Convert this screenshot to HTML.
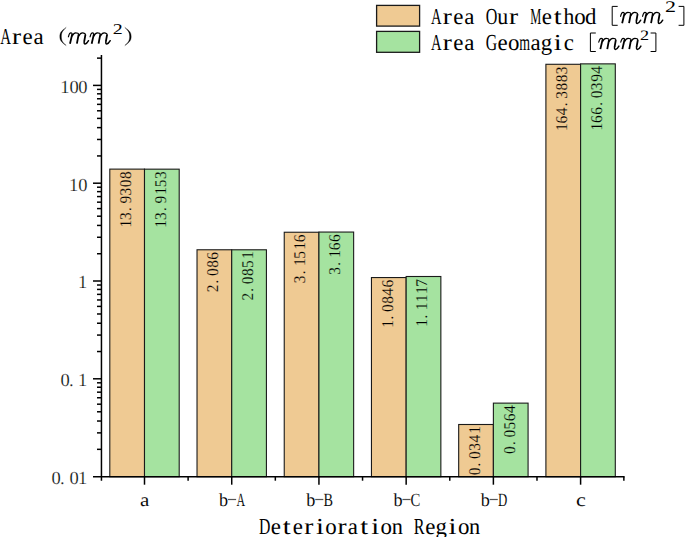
<!DOCTYPE html>
<html><head><meta charset="utf-8"><style>
html,body{margin:0;padding:0;background:#fff;}
body{width:685px;height:537px;overflow:hidden;font-family:"Liberation Serif",serif;}
svg{display:block;} text{text-rendering:geometricPrecision;}
</style></head><body>
<svg width="685" height="537" viewBox="0 0 685 537">
<rect x="109.800" y="169.119" width="34.700" height="307.581" fill="#EFCA93" stroke="#1a1a1a" stroke-width="1.1"/>
<rect x="144.500" y="169.166" width="34.700" height="307.534" fill="#A5E3A0" stroke="#1a1a1a" stroke-width="1.1"/>
<rect x="197.020" y="249.771" width="34.700" height="226.929" fill="#EFCA93" stroke="#1a1a1a" stroke-width="1.1"/>
<rect x="231.720" y="249.789" width="34.700" height="226.911" fill="#A5E3A0" stroke="#1a1a1a" stroke-width="1.1"/>
<rect x="284.240" y="232.244" width="34.700" height="244.456" fill="#EFCA93" stroke="#1a1a1a" stroke-width="1.1"/>
<rect x="318.940" y="232.050" width="34.700" height="244.650" fill="#A5E3A0" stroke="#1a1a1a" stroke-width="1.1"/>
<rect x="371.460" y="277.551" width="34.700" height="199.149" fill="#EFCA93" stroke="#1a1a1a" stroke-width="1.1"/>
<rect x="406.160" y="276.502" width="34.700" height="200.198" fill="#A5E3A0" stroke="#1a1a1a" stroke-width="1.1"/>
<rect x="458.680" y="424.497" width="34.700" height="52.203" fill="#EFCA93" stroke="#1a1a1a" stroke-width="1.1"/>
<rect x="493.380" y="403.125" width="34.700" height="73.575" fill="#A5E3A0" stroke="#1a1a1a" stroke-width="1.1"/>
<rect x="545.900" y="64.288" width="34.700" height="412.412" fill="#EFCA93" stroke="#1a1a1a" stroke-width="1.1"/>
<rect x="580.600" y="63.863" width="34.700" height="412.837" fill="#A5E3A0" stroke="#1a1a1a" stroke-width="1.1"/>
<g transform="translate(131.050,171.819) rotate(-90)"><text transform="translate(-55.769,0.000) scale(0.9400,1)" font-family="Liberation Serif" font-style="normal" font-size="16.400" fill="#000" stroke="#EFCA93" stroke-width="0.1596">1</text>
<text transform="translate(-48.222,0.000) scale(0.9400,1)" font-family="Liberation Serif" font-style="normal" font-size="16.400" fill="#000" stroke="#EFCA93" stroke-width="0.1596">3</text>
<text transform="translate(-39.227,0.000) scale(0.9400,1)" font-family="Liberation Serif" font-style="normal" font-size="16.400" fill="#000" stroke="#EFCA93" stroke-width="0.1596">.</text>
<text transform="translate(-31.686,0.000) scale(0.9400,1)" font-family="Liberation Serif" font-style="normal" font-size="16.400" fill="#000" stroke="#EFCA93" stroke-width="0.1596">9</text>
<text transform="translate(-23.622,0.000) scale(0.9400,1)" font-family="Liberation Serif" font-style="normal" font-size="16.400" fill="#000" stroke="#EFCA93" stroke-width="0.1596">3</text>
<text transform="translate(-15.354,0.000) scale(0.9400,1)" font-family="Liberation Serif" font-style="normal" font-size="16.400" fill="#000" stroke="#EFCA93" stroke-width="0.1596">0</text>
<text transform="translate(-7.154,0.000) scale(0.9400,1)" font-family="Liberation Serif" font-style="normal" font-size="16.400" fill="#000" stroke="#EFCA93" stroke-width="0.1596">8</text></g>
<g transform="translate(165.750,171.866) rotate(-90)"><text transform="translate(-55.769,0.000) scale(0.9400,1)" font-family="Liberation Serif" font-style="normal" font-size="16.400" fill="#000" stroke="#A5E3A0" stroke-width="0.1596">1</text>
<text transform="translate(-48.222,0.000) scale(0.9400,1)" font-family="Liberation Serif" font-style="normal" font-size="16.400" fill="#000" stroke="#A5E3A0" stroke-width="0.1596">3</text>
<text transform="translate(-39.227,0.000) scale(0.9400,1)" font-family="Liberation Serif" font-style="normal" font-size="16.400" fill="#000" stroke="#A5E3A0" stroke-width="0.1596">.</text>
<text transform="translate(-31.686,0.000) scale(0.9400,1)" font-family="Liberation Serif" font-style="normal" font-size="16.400" fill="#000" stroke="#A5E3A0" stroke-width="0.1596">9</text>
<text transform="translate(-22.969,0.000) scale(0.9400,1)" font-family="Liberation Serif" font-style="normal" font-size="16.400" fill="#000" stroke="#A5E3A0" stroke-width="0.1596">1</text>
<text transform="translate(-15.501,0.000) scale(0.9400,1)" font-family="Liberation Serif" font-style="normal" font-size="16.400" fill="#000" stroke="#A5E3A0" stroke-width="0.1596">5</text>
<text transform="translate(-7.222,0.000) scale(0.9400,1)" font-family="Liberation Serif" font-style="normal" font-size="16.400" fill="#000" stroke="#A5E3A0" stroke-width="0.1596">3</text></g>
<g transform="translate(218.270,252.471) rotate(-90)"><text transform="translate(-39.867,0.000) scale(0.9400,1)" font-family="Liberation Serif" font-style="normal" font-size="16.400" fill="#000" stroke="#EFCA93" stroke-width="0.1596">2</text>
<text transform="translate(-31.027,0.000) scale(0.9400,1)" font-family="Liberation Serif" font-style="normal" font-size="16.400" fill="#000" stroke="#EFCA93" stroke-width="0.1596">.</text>
<text transform="translate(-23.554,0.000) scale(0.9400,1)" font-family="Liberation Serif" font-style="normal" font-size="16.400" fill="#000" stroke="#EFCA93" stroke-width="0.1596">0</text>
<text transform="translate(-15.354,0.000) scale(0.9400,1)" font-family="Liberation Serif" font-style="normal" font-size="16.400" fill="#000" stroke="#EFCA93" stroke-width="0.1596">8</text>
<text transform="translate(-7.256,0.000) scale(0.9400,1)" font-family="Liberation Serif" font-style="normal" font-size="16.400" fill="#000" stroke="#EFCA93" stroke-width="0.1596">6</text></g>
<g transform="translate(252.970,252.489) rotate(-90)"><text transform="translate(-48.067,0.000) scale(0.9400,1)" font-family="Liberation Serif" font-style="normal" font-size="16.400" fill="#000" stroke="#A5E3A0" stroke-width="0.1596">2</text>
<text transform="translate(-39.227,0.000) scale(0.9400,1)" font-family="Liberation Serif" font-style="normal" font-size="16.400" fill="#000" stroke="#A5E3A0" stroke-width="0.1596">.</text>
<text transform="translate(-31.754,0.000) scale(0.9400,1)" font-family="Liberation Serif" font-style="normal" font-size="16.400" fill="#000" stroke="#A5E3A0" stroke-width="0.1596">0</text>
<text transform="translate(-23.554,0.000) scale(0.9400,1)" font-family="Liberation Serif" font-style="normal" font-size="16.400" fill="#000" stroke="#A5E3A0" stroke-width="0.1596">8</text>
<text transform="translate(-15.501,0.000) scale(0.9400,1)" font-family="Liberation Serif" font-style="normal" font-size="16.400" fill="#000" stroke="#A5E3A0" stroke-width="0.1596">5</text>
<text transform="translate(-6.569,0.000) scale(0.9400,1)" font-family="Liberation Serif" font-style="normal" font-size="16.400" fill="#000" stroke="#A5E3A0" stroke-width="0.1596">1</text></g>
<g transform="translate(305.490,234.944) rotate(-90)"><text transform="translate(-48.222,0.000) scale(0.9400,1)" font-family="Liberation Serif" font-style="normal" font-size="16.400" fill="#000" stroke="#EFCA93" stroke-width="0.1596">3</text>
<text transform="translate(-39.227,0.000) scale(0.9400,1)" font-family="Liberation Serif" font-style="normal" font-size="16.400" fill="#000" stroke="#EFCA93" stroke-width="0.1596">.</text>
<text transform="translate(-31.169,0.000) scale(0.9400,1)" font-family="Liberation Serif" font-style="normal" font-size="16.400" fill="#000" stroke="#EFCA93" stroke-width="0.1596">1</text>
<text transform="translate(-23.701,0.000) scale(0.9400,1)" font-family="Liberation Serif" font-style="normal" font-size="16.400" fill="#000" stroke="#EFCA93" stroke-width="0.1596">5</text>
<text transform="translate(-14.769,0.000) scale(0.9400,1)" font-family="Liberation Serif" font-style="normal" font-size="16.400" fill="#000" stroke="#EFCA93" stroke-width="0.1596">1</text>
<text transform="translate(-7.256,0.000) scale(0.9400,1)" font-family="Liberation Serif" font-style="normal" font-size="16.400" fill="#000" stroke="#EFCA93" stroke-width="0.1596">6</text></g>
<g transform="translate(340.190,234.750) rotate(-90)"><text transform="translate(-40.022,0.000) scale(0.9400,1)" font-family="Liberation Serif" font-style="normal" font-size="16.400" fill="#000" stroke="#A5E3A0" stroke-width="0.1596">3</text>
<text transform="translate(-31.027,0.000) scale(0.9400,1)" font-family="Liberation Serif" font-style="normal" font-size="16.400" fill="#000" stroke="#A5E3A0" stroke-width="0.1596">.</text>
<text transform="translate(-22.969,0.000) scale(0.9400,1)" font-family="Liberation Serif" font-style="normal" font-size="16.400" fill="#000" stroke="#A5E3A0" stroke-width="0.1596">1</text>
<text transform="translate(-15.456,0.000) scale(0.9400,1)" font-family="Liberation Serif" font-style="normal" font-size="16.400" fill="#000" stroke="#A5E3A0" stroke-width="0.1596">6</text>
<text transform="translate(-7.256,0.000) scale(0.9400,1)" font-family="Liberation Serif" font-style="normal" font-size="16.400" fill="#000" stroke="#A5E3A0" stroke-width="0.1596">6</text></g>
<g transform="translate(392.710,280.251) rotate(-90)"><text transform="translate(-47.569,0.000) scale(0.9400,1)" font-family="Liberation Serif" font-style="normal" font-size="16.400" fill="#000" stroke="#EFCA93" stroke-width="0.1596">1</text>
<text transform="translate(-39.227,0.000) scale(0.9400,1)" font-family="Liberation Serif" font-style="normal" font-size="16.400" fill="#000" stroke="#EFCA93" stroke-width="0.1596">.</text>
<text transform="translate(-31.754,0.000) scale(0.9400,1)" font-family="Liberation Serif" font-style="normal" font-size="16.400" fill="#000" stroke="#EFCA93" stroke-width="0.1596">0</text>
<text transform="translate(-23.554,0.000) scale(0.9400,1)" font-family="Liberation Serif" font-style="normal" font-size="16.400" fill="#000" stroke="#EFCA93" stroke-width="0.1596">8</text>
<text transform="translate(-15.384,0.000) scale(0.9400,1)" font-family="Liberation Serif" font-style="normal" font-size="16.400" fill="#000" stroke="#EFCA93" stroke-width="0.1596">4</text>
<text transform="translate(-7.256,0.000) scale(0.9400,1)" font-family="Liberation Serif" font-style="normal" font-size="16.400" fill="#000" stroke="#EFCA93" stroke-width="0.1596">6</text></g>
<g transform="translate(427.410,279.202) rotate(-90)"><text transform="translate(-47.569,0.000) scale(0.9400,1)" font-family="Liberation Serif" font-style="normal" font-size="16.400" fill="#000" stroke="#A5E3A0" stroke-width="0.1596">1</text>
<text transform="translate(-39.227,0.000) scale(0.9400,1)" font-family="Liberation Serif" font-style="normal" font-size="16.400" fill="#000" stroke="#A5E3A0" stroke-width="0.1596">.</text>
<text transform="translate(-31.169,0.000) scale(0.9400,1)" font-family="Liberation Serif" font-style="normal" font-size="16.400" fill="#000" stroke="#A5E3A0" stroke-width="0.1596">1</text>
<text transform="translate(-22.969,0.000) scale(0.9400,1)" font-family="Liberation Serif" font-style="normal" font-size="16.400" fill="#000" stroke="#A5E3A0" stroke-width="0.1596">1</text>
<text transform="translate(-14.769,0.000) scale(0.9400,1)" font-family="Liberation Serif" font-style="normal" font-size="16.400" fill="#000" stroke="#A5E3A0" stroke-width="0.1596">1</text>
<text transform="translate(-7.440,0.000) scale(0.9400,1)" font-family="Liberation Serif" font-style="normal" font-size="16.400" fill="#000" stroke="#A5E3A0" stroke-width="0.1596">7</text></g>
<g transform="translate(479.930,427.197) rotate(-90)"><text transform="translate(-48.154,0.000) scale(0.9400,1)" font-family="Liberation Serif" font-style="normal" font-size="16.400" fill="#000" stroke="#EFCA93" stroke-width="0.1596">0</text>
<text transform="translate(-39.227,0.000) scale(0.9400,1)" font-family="Liberation Serif" font-style="normal" font-size="16.400" fill="#000" stroke="#EFCA93" stroke-width="0.1596">.</text>
<text transform="translate(-31.754,0.000) scale(0.9400,1)" font-family="Liberation Serif" font-style="normal" font-size="16.400" fill="#000" stroke="#EFCA93" stroke-width="0.1596">0</text>
<text transform="translate(-23.622,0.000) scale(0.9400,1)" font-family="Liberation Serif" font-style="normal" font-size="16.400" fill="#000" stroke="#EFCA93" stroke-width="0.1596">3</text>
<text transform="translate(-15.384,0.000) scale(0.9400,1)" font-family="Liberation Serif" font-style="normal" font-size="16.400" fill="#000" stroke="#EFCA93" stroke-width="0.1596">4</text>
<text transform="translate(-6.569,0.000) scale(0.9400,1)" font-family="Liberation Serif" font-style="normal" font-size="16.400" fill="#000" stroke="#EFCA93" stroke-width="0.1596">1</text></g>
<g transform="translate(514.630,405.825) rotate(-90)"><text transform="translate(-48.154,0.000) scale(0.9400,1)" font-family="Liberation Serif" font-style="normal" font-size="16.400" fill="#000" stroke="#A5E3A0" stroke-width="0.1596">0</text>
<text transform="translate(-39.227,0.000) scale(0.9400,1)" font-family="Liberation Serif" font-style="normal" font-size="16.400" fill="#000" stroke="#A5E3A0" stroke-width="0.1596">.</text>
<text transform="translate(-31.754,0.000) scale(0.9400,1)" font-family="Liberation Serif" font-style="normal" font-size="16.400" fill="#000" stroke="#A5E3A0" stroke-width="0.1596">0</text>
<text transform="translate(-23.701,0.000) scale(0.9400,1)" font-family="Liberation Serif" font-style="normal" font-size="16.400" fill="#000" stroke="#A5E3A0" stroke-width="0.1596">5</text>
<text transform="translate(-15.456,0.000) scale(0.9400,1)" font-family="Liberation Serif" font-style="normal" font-size="16.400" fill="#000" stroke="#A5E3A0" stroke-width="0.1596">6</text>
<text transform="translate(-7.184,0.000) scale(0.9400,1)" font-family="Liberation Serif" font-style="normal" font-size="16.400" fill="#000" stroke="#A5E3A0" stroke-width="0.1596">4</text></g>
<g transform="translate(567.150,66.988) rotate(-90)"><text transform="translate(-63.969,0.000) scale(0.9400,1)" font-family="Liberation Serif" font-style="normal" font-size="16.400" fill="#000" stroke="#EFCA93" stroke-width="0.1596">1</text>
<text transform="translate(-56.456,0.000) scale(0.9400,1)" font-family="Liberation Serif" font-style="normal" font-size="16.400" fill="#000" stroke="#EFCA93" stroke-width="0.1596">6</text>
<text transform="translate(-48.184,0.000) scale(0.9400,1)" font-family="Liberation Serif" font-style="normal" font-size="16.400" fill="#000" stroke="#EFCA93" stroke-width="0.1596">4</text>
<text transform="translate(-39.227,0.000) scale(0.9400,1)" font-family="Liberation Serif" font-style="normal" font-size="16.400" fill="#000" stroke="#EFCA93" stroke-width="0.1596">.</text>
<text transform="translate(-31.822,0.000) scale(0.9400,1)" font-family="Liberation Serif" font-style="normal" font-size="16.400" fill="#000" stroke="#EFCA93" stroke-width="0.1596">3</text>
<text transform="translate(-23.554,0.000) scale(0.9400,1)" font-family="Liberation Serif" font-style="normal" font-size="16.400" fill="#000" stroke="#EFCA93" stroke-width="0.1596">8</text>
<text transform="translate(-15.354,0.000) scale(0.9400,1)" font-family="Liberation Serif" font-style="normal" font-size="16.400" fill="#000" stroke="#EFCA93" stroke-width="0.1596">8</text>
<text transform="translate(-7.222,0.000) scale(0.9400,1)" font-family="Liberation Serif" font-style="normal" font-size="16.400" fill="#000" stroke="#EFCA93" stroke-width="0.1596">3</text></g>
<g transform="translate(601.850,66.563) rotate(-90)"><text transform="translate(-63.969,0.000) scale(0.9400,1)" font-family="Liberation Serif" font-style="normal" font-size="16.400" fill="#000" stroke="#A5E3A0" stroke-width="0.1596">1</text>
<text transform="translate(-56.456,0.000) scale(0.9400,1)" font-family="Liberation Serif" font-style="normal" font-size="16.400" fill="#000" stroke="#A5E3A0" stroke-width="0.1596">6</text>
<text transform="translate(-48.256,0.000) scale(0.9400,1)" font-family="Liberation Serif" font-style="normal" font-size="16.400" fill="#000" stroke="#A5E3A0" stroke-width="0.1596">6</text>
<text transform="translate(-39.227,0.000) scale(0.9400,1)" font-family="Liberation Serif" font-style="normal" font-size="16.400" fill="#000" stroke="#A5E3A0" stroke-width="0.1596">.</text>
<text transform="translate(-31.754,0.000) scale(0.9400,1)" font-family="Liberation Serif" font-style="normal" font-size="16.400" fill="#000" stroke="#A5E3A0" stroke-width="0.1596">0</text>
<text transform="translate(-23.622,0.000) scale(0.9400,1)" font-family="Liberation Serif" font-style="normal" font-size="16.400" fill="#000" stroke="#A5E3A0" stroke-width="0.1596">3</text>
<text transform="translate(-15.286,0.000) scale(0.9400,1)" font-family="Liberation Serif" font-style="normal" font-size="16.400" fill="#000" stroke="#A5E3A0" stroke-width="0.1596">9</text>
<text transform="translate(-7.184,0.000) scale(0.9400,1)" font-family="Liberation Serif" font-style="normal" font-size="16.400" fill="#000" stroke="#A5E3A0" stroke-width="0.1596">4</text></g>
<line x1="101.45" y1="55.00" x2="101.45" y2="480.70" stroke="#000" stroke-width="1.50"/>
<line x1="93.00" y1="476.70" x2="624.61" y2="476.70" stroke="#000" stroke-width="1.50"/>
<line x1="97" y1="449.34" x2="101.45" y2="449.34" stroke="#000" stroke-width="1.50"/>
<line x1="97" y1="432.87" x2="101.45" y2="432.87" stroke="#000" stroke-width="1.50"/>
<line x1="97" y1="421.03" x2="101.45" y2="421.03" stroke="#000" stroke-width="1.50"/>
<line x1="97" y1="411.78" x2="101.45" y2="411.78" stroke="#000" stroke-width="1.50"/>
<line x1="97" y1="404.19" x2="101.45" y2="404.19" stroke="#000" stroke-width="1.50"/>
<line x1="97" y1="397.76" x2="101.45" y2="397.76" stroke="#000" stroke-width="1.50"/>
<line x1="97" y1="392.17" x2="101.45" y2="392.17" stroke="#000" stroke-width="1.50"/>
<line x1="97" y1="387.23" x2="101.45" y2="387.23" stroke="#000" stroke-width="1.50"/>
<line x1="97" y1="382.81" x2="101.45" y2="382.81" stroke="#000" stroke-width="1.50"/>
<line x1="93" y1="378.80" x2="101.45" y2="378.80" stroke="#000" stroke-width="1.50"/>
<line x1="97" y1="351.54" x2="101.45" y2="351.54" stroke="#000" stroke-width="1.50"/>
<line x1="97" y1="335.07" x2="101.45" y2="335.07" stroke="#000" stroke-width="1.50"/>
<line x1="97" y1="323.23" x2="101.45" y2="323.23" stroke="#000" stroke-width="1.50"/>
<line x1="97" y1="313.98" x2="101.45" y2="313.98" stroke="#000" stroke-width="1.50"/>
<line x1="97" y1="306.39" x2="101.45" y2="306.39" stroke="#000" stroke-width="1.50"/>
<line x1="97" y1="299.96" x2="101.45" y2="299.96" stroke="#000" stroke-width="1.50"/>
<line x1="97" y1="294.37" x2="101.45" y2="294.37" stroke="#000" stroke-width="1.50"/>
<line x1="97" y1="289.43" x2="101.45" y2="289.43" stroke="#000" stroke-width="1.50"/>
<line x1="97" y1="285.01" x2="101.45" y2="285.01" stroke="#000" stroke-width="1.50"/>
<line x1="93" y1="281.00" x2="101.45" y2="281.00" stroke="#000" stroke-width="1.50"/>
<line x1="97" y1="253.74" x2="101.45" y2="253.74" stroke="#000" stroke-width="1.50"/>
<line x1="97" y1="237.27" x2="101.45" y2="237.27" stroke="#000" stroke-width="1.50"/>
<line x1="97" y1="225.43" x2="101.45" y2="225.43" stroke="#000" stroke-width="1.50"/>
<line x1="97" y1="216.18" x2="101.45" y2="216.18" stroke="#000" stroke-width="1.50"/>
<line x1="97" y1="208.59" x2="101.45" y2="208.59" stroke="#000" stroke-width="1.50"/>
<line x1="97" y1="202.16" x2="101.45" y2="202.16" stroke="#000" stroke-width="1.50"/>
<line x1="97" y1="196.57" x2="101.45" y2="196.57" stroke="#000" stroke-width="1.50"/>
<line x1="97" y1="191.63" x2="101.45" y2="191.63" stroke="#000" stroke-width="1.50"/>
<line x1="97" y1="187.21" x2="101.45" y2="187.21" stroke="#000" stroke-width="1.50"/>
<line x1="93" y1="183.20" x2="101.45" y2="183.20" stroke="#000" stroke-width="1.50"/>
<line x1="97" y1="155.94" x2="101.45" y2="155.94" stroke="#000" stroke-width="1.50"/>
<line x1="97" y1="139.47" x2="101.45" y2="139.47" stroke="#000" stroke-width="1.50"/>
<line x1="97" y1="127.63" x2="101.45" y2="127.63" stroke="#000" stroke-width="1.50"/>
<line x1="97" y1="118.38" x2="101.45" y2="118.38" stroke="#000" stroke-width="1.50"/>
<line x1="97" y1="110.79" x2="101.45" y2="110.79" stroke="#000" stroke-width="1.50"/>
<line x1="97" y1="104.36" x2="101.45" y2="104.36" stroke="#000" stroke-width="1.50"/>
<line x1="97" y1="98.77" x2="101.45" y2="98.77" stroke="#000" stroke-width="1.50"/>
<line x1="97" y1="93.83" x2="101.45" y2="93.83" stroke="#000" stroke-width="1.50"/>
<line x1="97" y1="89.41" x2="101.45" y2="89.41" stroke="#000" stroke-width="1.50"/>
<line x1="93" y1="85.40" x2="101.45" y2="85.40" stroke="#000" stroke-width="1.50"/>
<line x1="97" y1="58.14" x2="101.45" y2="58.14" stroke="#000" stroke-width="1.50"/>
<line x1="144.50" y1="476.70" x2="144.50" y2="484.70" stroke="#000" stroke-width="1.50"/>
<line x1="188.11" y1="476.70" x2="188.11" y2="480.70" stroke="#000" stroke-width="1.50"/>
<line x1="231.72" y1="476.70" x2="231.72" y2="484.70" stroke="#000" stroke-width="1.50"/>
<line x1="275.33" y1="476.70" x2="275.33" y2="480.70" stroke="#000" stroke-width="1.50"/>
<line x1="318.94" y1="476.70" x2="318.94" y2="484.70" stroke="#000" stroke-width="1.50"/>
<line x1="362.55" y1="476.70" x2="362.55" y2="480.70" stroke="#000" stroke-width="1.50"/>
<line x1="406.16" y1="476.70" x2="406.16" y2="484.70" stroke="#000" stroke-width="1.50"/>
<line x1="449.77" y1="476.70" x2="449.77" y2="480.70" stroke="#000" stroke-width="1.50"/>
<line x1="493.38" y1="476.70" x2="493.38" y2="484.70" stroke="#000" stroke-width="1.50"/>
<line x1="536.99" y1="476.70" x2="536.99" y2="480.70" stroke="#000" stroke-width="1.50"/>
<line x1="580.60" y1="476.70" x2="580.60" y2="484.70" stroke="#000" stroke-width="1.50"/>
<line x1="623.86" y1="476.70" x2="623.86" y2="480.70" stroke="#000" stroke-width="1.50"/>
<text transform="translate(60.218,92.700) scale(1.0000,1)" font-family="Liberation Serif" font-style="normal" font-size="18.500" fill="#000" stroke="#fff" stroke-width="0.2500">1</text>
<text transform="translate(69.375,92.700) scale(1.0000,1)" font-family="Liberation Serif" font-style="normal" font-size="18.500" fill="#000" stroke="#fff" stroke-width="0.2500">0</text>
<text transform="translate(78.275,92.700) scale(1.0000,1)" font-family="Liberation Serif" font-style="normal" font-size="18.500" fill="#000" stroke="#fff" stroke-width="0.2500">0</text>
<text transform="translate(69.118,190.500) scale(1.0000,1)" font-family="Liberation Serif" font-style="normal" font-size="18.500" fill="#000" stroke="#fff" stroke-width="0.2500">1</text>
<text transform="translate(78.275,190.500) scale(1.0000,1)" font-family="Liberation Serif" font-style="normal" font-size="18.500" fill="#000" stroke="#fff" stroke-width="0.2500">0</text>
<text transform="translate(78.018,288.300) scale(1.0000,1)" font-family="Liberation Serif" font-style="normal" font-size="18.500" fill="#000" stroke="#fff" stroke-width="0.2500">1</text>
<text transform="translate(60.475,386.100) scale(1.0000,1)" font-family="Liberation Serif" font-style="normal" font-size="18.500" fill="#000" stroke="#fff" stroke-width="0.2500">0</text>
<text transform="translate(68.987,386.100) scale(1.0000,1)" font-family="Liberation Serif" font-style="normal" font-size="18.500" fill="#000" stroke="#fff" stroke-width="0.2500">.</text>
<text transform="translate(78.018,386.100) scale(1.0000,1)" font-family="Liberation Serif" font-style="normal" font-size="18.500" fill="#000" stroke="#fff" stroke-width="0.2500">1</text>
<text transform="translate(51.575,483.900) scale(1.0000,1)" font-family="Liberation Serif" font-style="normal" font-size="18.500" fill="#000" stroke="#fff" stroke-width="0.2500">0</text>
<text transform="translate(60.088,483.900) scale(1.0000,1)" font-family="Liberation Serif" font-style="normal" font-size="18.500" fill="#000" stroke="#fff" stroke-width="0.2500">.</text>
<text transform="translate(69.375,483.900) scale(1.0000,1)" font-family="Liberation Serif" font-style="normal" font-size="18.500" fill="#000" stroke="#fff" stroke-width="0.2500">0</text>
<text transform="translate(78.018,483.900) scale(1.0000,1)" font-family="Liberation Serif" font-style="normal" font-size="18.500" fill="#000" stroke="#fff" stroke-width="0.2500">1</text>
<text transform="translate(140.011,505.600) scale(1.1297,1)" font-family="Liberation Serif" font-style="normal" font-size="18.600" fill="#000" stroke="#fff" stroke-width="0.0708">a</text>
<text transform="translate(219.120,505.600) scale(0.9777,1)" font-family="Liberation Serif" font-style="normal" font-size="18.600" fill="#000" stroke="#fff" stroke-width="0.0818">b</text>
<text transform="translate(236.604,505.600) scale(0.6405,1)" font-family="Liberation Serif" font-style="normal" font-size="18.600" fill="#000" stroke="#fff" stroke-width="0.1249">A</text>
<rect x="228.01" y="498.9" width="8.1" height="1.2" fill="#555"/>
<text transform="translate(306.340,505.600) scale(0.9777,1)" font-family="Liberation Serif" font-style="normal" font-size="18.600" fill="#000" stroke="#fff" stroke-width="0.0818">b</text>
<text transform="translate(323.529,505.600) scale(0.7663,1)" font-family="Liberation Serif" font-style="normal" font-size="18.600" fill="#000" stroke="#fff" stroke-width="0.1044">B</text>
<rect x="315.23" y="498.9" width="8.1" height="1.2" fill="#555"/>
<text transform="translate(393.560,505.600) scale(0.9777,1)" font-family="Liberation Serif" font-style="normal" font-size="18.600" fill="#000" stroke="#fff" stroke-width="0.0818">b</text>
<text transform="translate(410.556,505.600) scale(0.7912,1)" font-family="Liberation Serif" font-style="normal" font-size="18.600" fill="#000" stroke="#fff" stroke-width="0.1011">C</text>
<rect x="402.45" y="498.9" width="8.1" height="1.2" fill="#555"/>
<text transform="translate(480.780,505.600) scale(0.9777,1)" font-family="Liberation Serif" font-style="normal" font-size="18.600" fill="#000" stroke="#fff" stroke-width="0.0818">b</text>
<text transform="translate(498.010,505.600) scale(0.6913,1)" font-family="Liberation Serif" font-style="normal" font-size="18.600" fill="#000" stroke="#fff" stroke-width="0.1157">D</text>
<rect x="489.67" y="498.9" width="8.1" height="1.2" fill="#555"/>
<text transform="translate(576.007,505.600) scale(1.1900,1)" font-family="Liberation Serif" font-style="normal" font-size="18.600" fill="#000" stroke="#fff" stroke-width="0.0672">c</text>
<text transform="translate(259.121,533.500) scale(0.6885,1)" font-family="Liberation Serif" font-style="normal" font-size="22.900" fill="#000">D</text>
<text transform="translate(270.643,533.500) scale(1.0000,1)" font-family="Liberation Serif" font-style="normal" font-size="22.900" fill="#000">e</text>
<text transform="translate(282.793,533.500) scale(1.2500,1)" font-family="Liberation Serif" font-style="normal" font-size="22.900" fill="#000">t</text>
<text transform="translate(292.743,533.500) scale(1.0000,1)" font-family="Liberation Serif" font-style="normal" font-size="22.900" fill="#000">e</text>
<text transform="translate(304.229,533.500) scale(1.1915,1)" font-family="Liberation Serif" font-style="normal" font-size="22.900" fill="#000">r</text>
<text transform="translate(315.971,533.500) scale(1.2500,1)" font-family="Liberation Serif" font-style="normal" font-size="22.900" fill="#000">i</text>
<text transform="translate(325.300,533.500) scale(1.0000,1)" font-family="Liberation Serif" font-style="normal" font-size="22.900" fill="#000">o</text>
<text transform="translate(337.379,533.500) scale(1.1915,1)" font-family="Liberation Serif" font-style="normal" font-size="22.900" fill="#000">r</text>
<text transform="translate(347.797,533.500) scale(1.0000,1)" font-family="Liberation Serif" font-style="normal" font-size="22.900" fill="#000">a</text>
<text transform="translate(360.143,533.500) scale(1.2500,1)" font-family="Liberation Serif" font-style="normal" font-size="22.900" fill="#000">t</text>
<text transform="translate(371.221,533.500) scale(1.2500,1)" font-family="Liberation Serif" font-style="normal" font-size="22.900" fill="#000">i</text>
<text transform="translate(380.550,533.500) scale(1.0000,1)" font-family="Liberation Serif" font-style="normal" font-size="22.900" fill="#000">o</text>
<text transform="translate(391.663,533.500) scale(0.9737,1)" font-family="Liberation Serif" font-style="normal" font-size="22.900" fill="#000">n</text>
<text transform="translate(413.809,533.500) scale(0.7064,1)" font-family="Liberation Serif" font-style="normal" font-size="22.900" fill="#000">R</text>
<text transform="translate(425.343,533.500) scale(1.0000,1)" font-family="Liberation Serif" font-style="normal" font-size="22.900" fill="#000">e</text>
<text transform="translate(435.526,533.500) scale(1.0000,1)" font-family="Liberation Serif" font-style="normal" font-size="22.900" fill="#000">g</text>
<text transform="translate(448.571,533.500) scale(1.2500,1)" font-family="Liberation Serif" font-style="normal" font-size="22.900" fill="#000">i</text>
<text transform="translate(457.900,533.500) scale(1.0000,1)" font-family="Liberation Serif" font-style="normal" font-size="22.900" fill="#000">o</text>
<text transform="translate(469.013,533.500) scale(0.9737,1)" font-family="Liberation Serif" font-style="normal" font-size="22.900" fill="#000">n</text>
<text transform="translate(0.230,43.900) scale(0.6503,1)" font-family="Liberation Serif" font-style="normal" font-size="22.900" fill="#000">A</text>
<text transform="translate(11.979,43.900) scale(1.1915,1)" font-family="Liberation Serif" font-style="normal" font-size="22.900" fill="#000">r</text>
<text transform="translate(22.593,43.900) scale(1.0000,1)" font-family="Liberation Serif" font-style="normal" font-size="22.900" fill="#000">e</text>
<text transform="translate(33.447,43.900) scale(1.0000,1)" font-family="Liberation Serif" font-style="normal" font-size="22.900" fill="#000">a</text>
<path d="M 66.20,27.40 C 61.40,30.68 59.80,32.50 59.80,36.50 C 59.80,40.50 61.40,42.32 66.20,45.60 C 62.36,41.96 61.40,40.50 61.40,36.50 C 61.40,32.50 62.36,31.04 66.20,27.40 Z" fill="#000" stroke="#000" stroke-width="0.3"/>
<g transform="translate(67.930,44.000) scale(1.0000)" fill="none" stroke="#000" stroke-linecap="round"><path d="M 0.45,-7.2 C 0.9,-9.0 1.8,-11.1 2.9,-11.1 C 3.9,-11.1 4.45,-10.5 4.3,-9.6 M 4.55,-8.1 C 5.35,-10.1 6.5,-11.1 7.8,-11.1 C 9.4,-11.1 10.85,-10.5 10.7,-9.5 M 11.1,-8.1 C 11.9,-10.1 13.1,-11.1 14.6,-11.1 C 16.3,-11.1 17.65,-10.4 17.5,-9.2" stroke-width="1.150"/><path d="M 4.3,-9.9 L 2.05,-0.3 M 10.7,-9.6 L 8.97,-0.3 M 17.5,-9.3 L 16.3,-2.6" stroke-width="1.800" stroke-linecap="butt"/><path d="M 16.3,-2.6 C 16.0,-0.8 16.4,0 17.2,0 C 18.4,0 19.6,-1.5 20.6,-3.3" stroke-width="1.475"/></g>
<g transform="translate(89.600,44.000) scale(1.0000)" fill="none" stroke="#000" stroke-linecap="round"><path d="M 0.45,-7.2 C 0.9,-9.0 1.8,-11.1 2.9,-11.1 C 3.9,-11.1 4.45,-10.5 4.3,-9.6 M 4.55,-8.1 C 5.35,-10.1 6.5,-11.1 7.8,-11.1 C 9.4,-11.1 10.85,-10.5 10.7,-9.5 M 11.1,-8.1 C 11.9,-10.1 13.1,-11.1 14.6,-11.1 C 16.3,-11.1 17.65,-10.4 17.5,-9.2" stroke-width="1.150"/><path d="M 4.3,-9.9 L 2.05,-0.3 M 10.7,-9.6 L 8.97,-0.3 M 17.5,-9.3 L 16.3,-2.6" stroke-width="1.800" stroke-linecap="butt"/><path d="M 16.3,-2.6 C 16.0,-0.8 16.4,0 17.2,0 C 18.4,0 19.6,-1.5 20.6,-3.3" stroke-width="1.475"/></g>
<text transform="translate(112.823,33.700) scale(0.19956,0.14952)" font-family="Liberation Serif" font-style="normal" font-size="100" fill="#000">2</text>
<path d="M 124.80,27.40 C 129.60,30.68 131.20,32.50 131.20,36.50 C 131.20,40.50 129.60,42.32 124.80,45.60 C 128.64,41.96 129.60,40.50 129.60,36.50 C 129.60,32.50 128.64,31.04 124.80,27.40 Z" fill="#000" stroke="#000" stroke-width="0.3"/>
<rect x="376.6" y="5.4" width="43" height="20.7" fill="#EFCA93" stroke="#1a1a1a" stroke-width="1.3"/>
<rect x="376.6" y="31.4" width="43" height="20.9" fill="#A5E3A0" stroke="#1a1a1a" stroke-width="1.3"/>
<text transform="translate(431.032,23.900) scale(0.6379,1)" font-family="Liberation Serif" font-style="normal" font-size="22.900" fill="#000">A</text>
<text transform="translate(442.679,23.900) scale(1.1915,1)" font-family="Liberation Serif" font-style="normal" font-size="22.900" fill="#000">r</text>
<text transform="translate(453.293,23.900) scale(1.0000,1)" font-family="Liberation Serif" font-style="normal" font-size="22.900" fill="#000">e</text>
<text transform="translate(464.147,23.900) scale(1.0000,1)" font-family="Liberation Serif" font-style="normal" font-size="22.900" fill="#000">a</text>
<text transform="translate(485.765,23.900) scale(0.7026,1)" font-family="Liberation Serif" font-style="normal" font-size="22.900" fill="#000">O</text>
<text transform="translate(497.186,23.900) scale(0.9575,1)" font-family="Liberation Serif" font-style="normal" font-size="22.900" fill="#000">u</text>
<text transform="translate(508.979,23.900) scale(1.1915,1)" font-family="Liberation Serif" font-style="normal" font-size="22.900" fill="#000">r</text>
<text transform="translate(530.268,23.900) scale(0.5412,1)" font-family="Liberation Serif" font-style="normal" font-size="22.900" fill="#000">M</text>
<text transform="translate(541.693,23.900) scale(1.0000,1)" font-family="Liberation Serif" font-style="normal" font-size="22.900" fill="#000">e</text>
<text transform="translate(553.843,23.900) scale(1.2500,1)" font-family="Liberation Serif" font-style="normal" font-size="22.900" fill="#000">t</text>
<text transform="translate(563.564,23.900) scale(0.9428,1)" font-family="Liberation Serif" font-style="normal" font-size="22.900" fill="#000">h</text>
<text transform="translate(574.250,23.900) scale(1.0000,1)" font-family="Liberation Serif" font-style="normal" font-size="22.900" fill="#000">o</text>
<text transform="translate(585.051,23.900) scale(0.9958,1)" font-family="Liberation Serif" font-style="normal" font-size="22.900" fill="#000">d</text>
<text transform="translate(431.032,49.800) scale(0.6379,1)" font-family="Liberation Serif" font-style="normal" font-size="22.900" fill="#000">A</text>
<text transform="translate(442.679,49.800) scale(1.1915,1)" font-family="Liberation Serif" font-style="normal" font-size="22.900" fill="#000">r</text>
<text transform="translate(453.293,49.800) scale(1.0000,1)" font-family="Liberation Serif" font-style="normal" font-size="22.900" fill="#000">e</text>
<text transform="translate(464.147,49.800) scale(1.0000,1)" font-family="Liberation Serif" font-style="normal" font-size="22.900" fill="#000">a</text>
<text transform="translate(485.775,49.800) scale(0.6921,1)" font-family="Liberation Serif" font-style="normal" font-size="22.900" fill="#000">G</text>
<text transform="translate(497.493,49.800) scale(1.0000,1)" font-family="Liberation Serif" font-style="normal" font-size="22.900" fill="#000">e</text>
<text transform="translate(507.950,49.800) scale(1.0000,1)" font-family="Liberation Serif" font-style="normal" font-size="22.900" fill="#000">o</text>
<text transform="translate(519.283,49.800) scale(0.6068,1)" font-family="Liberation Serif" font-style="normal" font-size="22.900" fill="#000">m</text>
<text transform="translate(530.447,49.800) scale(1.0000,1)" font-family="Liberation Serif" font-style="normal" font-size="22.900" fill="#000">a</text>
<text transform="translate(540.826,49.800) scale(1.0000,1)" font-family="Liberation Serif" font-style="normal" font-size="22.900" fill="#000">g</text>
<text transform="translate(553.871,49.800) scale(1.2500,1)" font-family="Liberation Serif" font-style="normal" font-size="22.900" fill="#000">i</text>
<text transform="translate(563.759,49.800) scale(1.0000,1)" font-family="Liberation Serif" font-style="normal" font-size="22.900" fill="#000">c</text>
<path d="M 617.70,6.40 H 612.20 V 25.30 H 617.70" fill="none" stroke="#000" stroke-width="1.00" stroke-linejoin="miter"/>
<g transform="translate(620.100,23.500) scale(1.0000)" fill="none" stroke="#000" stroke-linecap="round"><path d="M 0.45,-7.2 C 0.9,-9.0 1.8,-11.1 2.9,-11.1 C 3.9,-11.1 4.45,-10.5 4.3,-9.6 M 4.55,-8.1 C 5.35,-10.1 6.5,-11.1 7.8,-11.1 C 9.4,-11.1 10.85,-10.5 10.7,-9.5 M 11.1,-8.1 C 11.9,-10.1 13.1,-11.1 14.6,-11.1 C 16.3,-11.1 17.65,-10.4 17.5,-9.2" stroke-width="1.150"/><path d="M 4.3,-9.9 L 2.05,-0.3 M 10.7,-9.6 L 8.97,-0.3 M 17.5,-9.3 L 16.3,-2.6" stroke-width="1.800" stroke-linecap="butt"/><path d="M 16.3,-2.6 C 16.0,-0.8 16.4,0 17.2,0 C 18.4,0 19.6,-1.5 20.6,-3.3" stroke-width="1.475"/></g>
<g transform="translate(642.100,23.500) scale(1.0000)" fill="none" stroke="#000" stroke-linecap="round"><path d="M 0.45,-7.2 C 0.9,-9.0 1.8,-11.1 2.9,-11.1 C 3.9,-11.1 4.45,-10.5 4.3,-9.6 M 4.55,-8.1 C 5.35,-10.1 6.5,-11.1 7.8,-11.1 C 9.4,-11.1 10.85,-10.5 10.7,-9.5 M 11.1,-8.1 C 11.9,-10.1 13.1,-11.1 14.6,-11.1 C 16.3,-11.1 17.65,-10.4 17.5,-9.2" stroke-width="1.150"/><path d="M 4.3,-9.9 L 2.05,-0.3 M 10.7,-9.6 L 8.97,-0.3 M 17.5,-9.3 L 16.3,-2.6" stroke-width="1.800" stroke-linecap="butt"/><path d="M 16.3,-2.6 C 16.0,-0.8 16.4,0 17.2,0 C 18.4,0 19.6,-1.5 20.6,-3.3" stroke-width="1.475"/></g>
<text transform="translate(665.035,12.400) scale(0.21952,0.16085)" font-family="Liberation Serif" font-style="normal" font-size="100" fill="#000">2</text>
<path d="M 678.60,6.40 H 683.90 V 25.30 H 678.60" fill="none" stroke="#000" stroke-width="1.00" stroke-linejoin="miter"/>
<path d="M 595.80,33.00 H 590.40 V 51.50 H 595.80" fill="none" stroke="#000" stroke-width="1.00" stroke-linejoin="miter"/>
<g transform="translate(598.300,49.400) scale(1.0000)" fill="none" stroke="#000" stroke-linecap="round"><path d="M 0.45,-7.2 C 0.9,-9.0 1.8,-11.1 2.9,-11.1 C 3.9,-11.1 4.45,-10.5 4.3,-9.6 M 4.55,-8.1 C 5.35,-10.1 6.5,-11.1 7.8,-11.1 C 9.4,-11.1 10.85,-10.5 10.7,-9.5 M 11.1,-8.1 C 11.9,-10.1 13.1,-11.1 14.6,-11.1 C 16.3,-11.1 17.65,-10.4 17.5,-9.2" stroke-width="1.150"/><path d="M 4.3,-9.9 L 2.05,-0.3 M 10.7,-9.6 L 8.97,-0.3 M 17.5,-9.3 L 16.3,-2.6" stroke-width="1.800" stroke-linecap="butt"/><path d="M 16.3,-2.6 C 16.0,-0.8 16.4,0 17.2,0 C 18.4,0 19.6,-1.5 20.6,-3.3" stroke-width="1.475"/></g>
<g transform="translate(620.300,49.400) scale(1.0000)" fill="none" stroke="#000" stroke-linecap="round"><path d="M 0.45,-7.2 C 0.9,-9.0 1.8,-11.1 2.9,-11.1 C 3.9,-11.1 4.45,-10.5 4.3,-9.6 M 4.55,-8.1 C 5.35,-10.1 6.5,-11.1 7.8,-11.1 C 9.4,-11.1 10.85,-10.5 10.7,-9.5 M 11.1,-8.1 C 11.9,-10.1 13.1,-11.1 14.6,-11.1 C 16.3,-11.1 17.65,-10.4 17.5,-9.2" stroke-width="1.150"/><path d="M 4.3,-9.9 L 2.05,-0.3 M 10.7,-9.6 L 8.97,-0.3 M 17.5,-9.3 L 16.3,-2.6" stroke-width="1.800" stroke-linecap="butt"/><path d="M 16.3,-2.6 C 16.0,-0.8 16.4,0 17.2,0 C 18.4,0 19.6,-1.5 20.6,-3.3" stroke-width="1.475"/></g>
<text transform="translate(639.900,40.200) scale(0.18210,0.14499)" font-family="Liberation Serif" font-style="normal" font-size="100" fill="#000">2</text>
<path d="M 650.60,33.00 H 655.90 V 51.50 H 650.60" fill="none" stroke="#000" stroke-width="1.00" stroke-linejoin="miter"/>
</svg>
</body></html>
